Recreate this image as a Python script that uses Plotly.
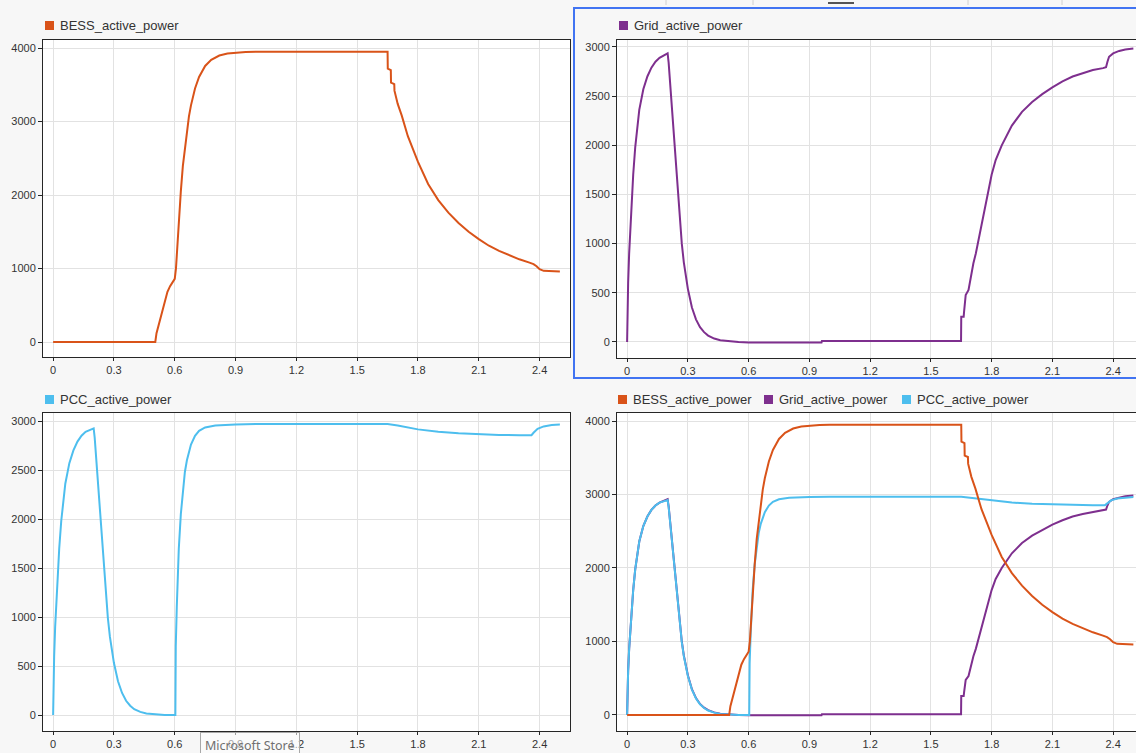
import plotly.graph_objects as go

# ---------------- data ----------------
BESS_t = [0, 0.504, 0.51, 0.52, 0.532, 0.548, 0.564, 0.577, 0.589, 0.598, 0.600, 0.606, 0.612,
          0.62, 0.63, 0.64, 0.65, 0.66, 0.67, 0.68, 0.70, 0.72, 0.75, 0.78, 0.82, 0.86, 0.90,
          0.95, 1.00, 1.30, 1.60, 1.650, 1.651, 1.666, 1.667, 1.683, 1.684, 1.694, 1.70, 1.72,
          1.75, 1.80, 1.85, 1.90, 1.95, 2.00, 2.05, 2.10, 2.15, 2.20, 2.25, 2.30, 2.35, 2.37,
          2.385, 2.40, 2.42, 2.45, 2.50]
BESS_p = [0, 0, 120, 220, 344, 530, 684, 760, 820, 857, 860, 1000, 1300,
          1685, 2050, 2396, 2650, 2885, 3070, 3220, 3449, 3607, 3756, 3839, 3898, 3925, 3937,
          3945, 3950, 3950, 3950, 3950, 3720, 3700, 3530, 3510, 3420, 3293, 3240, 3080,
          2800, 2450, 2150, 1930, 1760, 1620, 1500, 1400, 1310, 1240, 1180, 1125, 1080, 1060,
          1030, 990, 968, 962, 960]

GRID_t = [0, 0.002, 0.005, 0.01, 0.02, 0.03, 0.04, 0.05, 0.06, 0.08, 0.10, 0.12, 0.14, 0.16,
          0.18, 0.195, 0.200, 0.205, 0.21, 0.22, 0.23, 0.24, 0.25, 0.26, 0.27, 0.28, 0.29, 0.30,
          0.32, 0.34, 0.36, 0.38, 0.40, 0.43, 0.46, 0.50, 0.55, 0.60, 0.96, 0.962, 1.649, 1.650,
          1.662, 1.664, 1.672, 1.686, 1.694, 1.702, 1.71, 1.722, 1.735, 1.76, 1.78, 1.80, 1.82,
          1.85, 1.90, 1.95, 2.00, 2.05, 2.10, 2.15, 2.20, 2.25, 2.30, 2.35, 2.365, 2.372, 2.38,
          2.40, 2.43, 2.46, 2.50]
GRID_p = [0, 300, 600, 900, 1350, 1700, 1980, 2200, 2360, 2570, 2700, 2790, 2850, 2890,
          2915, 2930, 2935, 2840, 2700, 2400, 2080, 1770, 1480, 1220, 1000, 810, 660, 540,
          350, 230, 150, 100, 65, 35, 18, 7, 0, -5, -5, 10, 10, 257,
          257, 308, 478, 529, 631, 700, 800, 900, 1040, 1300, 1500, 1700, 1850,
          2000, 2200, 2340, 2440, 2520, 2590, 2650, 2700, 2735, 2765, 2785, 2795, 2850, 2900,
          2935, 2960, 2975, 2985]

PCC_t = [0, 0.002, 0.005, 0.01, 0.02, 0.03, 0.04, 0.05, 0.06, 0.08, 0.10, 0.12, 0.14, 0.16,
         0.18, 0.195, 0.200, 0.205, 0.21, 0.22, 0.23, 0.24, 0.25, 0.26, 0.27, 0.28, 0.29, 0.30,
         0.32, 0.34, 0.36, 0.38, 0.40, 0.43, 0.46, 0.50, 0.55, 0.603, 0.605, 0.61, 0.615, 0.62,
         0.63, 0.64, 0.65, 0.66, 0.68, 0.70, 0.72, 0.75, 0.80, 0.90, 1.00, 1.65, 1.70, 1.80,
         1.90, 2.00, 2.10, 2.20, 2.30, 2.36, 2.37, 2.39, 2.42, 2.46, 2.50]
PCC_p = [0, 300, 600, 900, 1350, 1700, 1980, 2200, 2360, 2570, 2700, 2790, 2850, 2890,
         2910, 2920, 2925, 2830, 2690, 2390, 2070, 1760, 1470, 1210, 990, 800, 650, 530,
         345, 225, 145, 95, 60, 32, 15, 5, 0, 0, 700, 1100, 1450, 1700,
         2050, 2300, 2480, 2600, 2760, 2850, 2900, 2935, 2955, 2965, 2970, 2970, 2955, 2915,
         2890, 2875, 2865, 2858, 2855, 2855, 2880, 2920, 2945, 2960, 2965]

X_TICKS = [0, 0.3, 0.6, 0.9, 1.2, 1.5, 1.8, 2.1, 2.4]
X_TICK_TEXT = ["0", "0.3", "0.6", "0.9", "1.2", "1.5", "1.8", "2.1", "2.4"]
Y_TICKS_4K = [0, 1000, 2000, 3000, 4000]
Y_TICKS_3K = [0, 500, 1000, 1500, 2000, 2500, 3000]

NAMES = ["BESS_active_power", "Grid_active_power", "PCC_active_power"]
COLORS = ["#D95319", "#7E2F8E", "#4DBEEE"]

# ---------------- figure ----------------
W, H = 1136, 753
def px(v):
    return v / W
def py(v):
    return 1 - v / H

fig = go.Figure()

def add(t, p, color, name, xa, ya):
    fig.add_trace(go.Scatter(x=t, y=p, mode="lines", name=name, xaxis=xa, yaxis=ya,
                             line=dict(color=color, width=2), showlegend=False,
                             hoverinfo="skip"))

add(BESS_t, BESS_p, COLORS[0], NAMES[0], "x", "y")
add(GRID_t, GRID_p, COLORS[1], NAMES[1], "x2", "y2")
add(PCC_t, PCC_p, COLORS[2], NAMES[2], "x3", "y3")
add(GRID_t, GRID_p, COLORS[1], NAMES[1], "x4", "y4")
add(PCC_t, PCC_p, COLORS[2], NAMES[2], "x4", "y4")
add(BESS_t, BESS_p, COLORS[0], NAMES[0], "x4", "y4")

tickfont = dict(family="Liberation Sans, Arial, sans-serif", size=11, color="#333333")
GRIDC = "#e2e2e2"
LINEC = "#262626"

def xax(dom, rng, anchor):
    return dict(domain=dom, range=rng, anchor=anchor, tickvals=X_TICKS, ticktext=X_TICK_TEXT,
                showgrid=True, gridcolor=GRIDC, gridwidth=1, zeroline=False,
                showline=True, linecolor=LINEC, linewidth=1, mirror=True,
                ticks="outside", ticklen=3, tickcolor=LINEC, tickfont=tickfont)

def yax(dom, rng, anchor, vals, mirror):
    return dict(domain=dom, range=rng, anchor=anchor, tickvals=vals,
                ticktext=[str(v) for v in vals],
                showgrid=True, gridcolor=GRIDC, gridwidth=1, zeroline=False,
                showline=True, linecolor=LINEC, linewidth=1, mirror=mirror,
                ticks="outside", ticklen=4, tickcolor=LINEC, tickfont=tickfont)

XL = [px(43), px(570)]
XR = [px(617), 1.0]
YT = [py(357), py(40)]
YT2 = [py(358), py(40)]
YB = [py(731), py(413)]

fig.update_layout(
    width=W, height=H, autosize=False,
    margin=dict(l=0, r=0, t=0, b=0),
    paper_bgcolor="#f7f7f7", plot_bgcolor="#ffffff",
    xaxis=xax(XL, [-0.05, 2.55], "y"),
    yaxis=yax(YT, [-204, 4109], "x", Y_TICKS_4K, True),
    xaxis2=xax(XR, [-0.05, 2.513], "y2"),
    yaxis2=yax(YT2, [-163, 3071], "x2", Y_TICKS_3K, False),
    xaxis3=xax(XL, [-0.05, 2.55], "y3"),
    yaxis3=yax(YB, [-163, 3082], "x3", Y_TICKS_3K, True),
    xaxis4=xax(XR, [-0.05, 2.513], "y4"),
    yaxis4=yax(YB, [-218, 4109], "x4", Y_TICKS_4K, False),
    showlegend=False,
)

shapes = []
annotations = []
legfont = dict(family="Liberation Sans, Arial, sans-serif", size=13, color="#333333")

def legend_item(x_sq, y_c, color, text):
    shapes.append(dict(type="rect", xref="paper", yref="paper",
                       x0=px(x_sq), x1=px(x_sq + 9), y0=py(y_c + 4.5), y1=py(y_c - 4.5),
                       fillcolor=color, line=dict(width=0)))
    annotations.append(dict(xref="paper", yref="paper", x=px(x_sq + 13), y=py(y_c),
                            xanchor="left", yanchor="middle", text=text, showarrow=False,
                            font=legfont))

legend_item(45, 25.5, COLORS[0], NAMES[0])
legend_item(619, 25.5, COLORS[1], NAMES[1])
legend_item(45, 399.5, COLORS[2], NAMES[2])
legend_item(618, 399.5, COLORS[0], NAMES[0])
legend_item(764, 399.5, COLORS[1], NAMES[1])
legend_item(902, 399.5, COLORS[2], NAMES[2])

# selection frame around the top-right panel
shapes.append(dict(type="rect", xref="paper", yref="paper",
                   x0=px(574), x1=px(1140), y0=py(378), y1=py(8),
                   line=dict(color="#4174f2", width=2), fillcolor="rgba(0,0,0,0)"))

# toolbar remnants at the top edge
for xv in [666, 753, 968, 1062]:
    shapes.append(dict(type="line", xref="paper", yref="paper",
                       x0=px(xv), x1=px(xv), y0=py(0), y1=py(5),
                       line=dict(color="#d0d0d0", width=1)))
shapes.append(dict(type="line", xref="paper", yref="paper",
                   x0=px(828), x1=px(854), y0=py(3), y1=py(3),
                   line=dict(color="#555555", width=2)))

# system tooltip overlay
annotations.append(dict(xref="paper", yref="paper", x=px(200), y=py(732),
                        xanchor="left", yanchor="top", text="Microsoft Store",
                        showarrow=False,
                        font=dict(family="Noto Sans, Open Sans, sans-serif", size=12.5,
                                  color="#707070"),
                        bgcolor="rgba(255,255,255,0.55)", bordercolor="#a8a8a8",
                        borderwidth=1, borderpad=4))

fig.update_layout(shapes=shapes, annotations=annotations)
fig.write_html("out.html")
